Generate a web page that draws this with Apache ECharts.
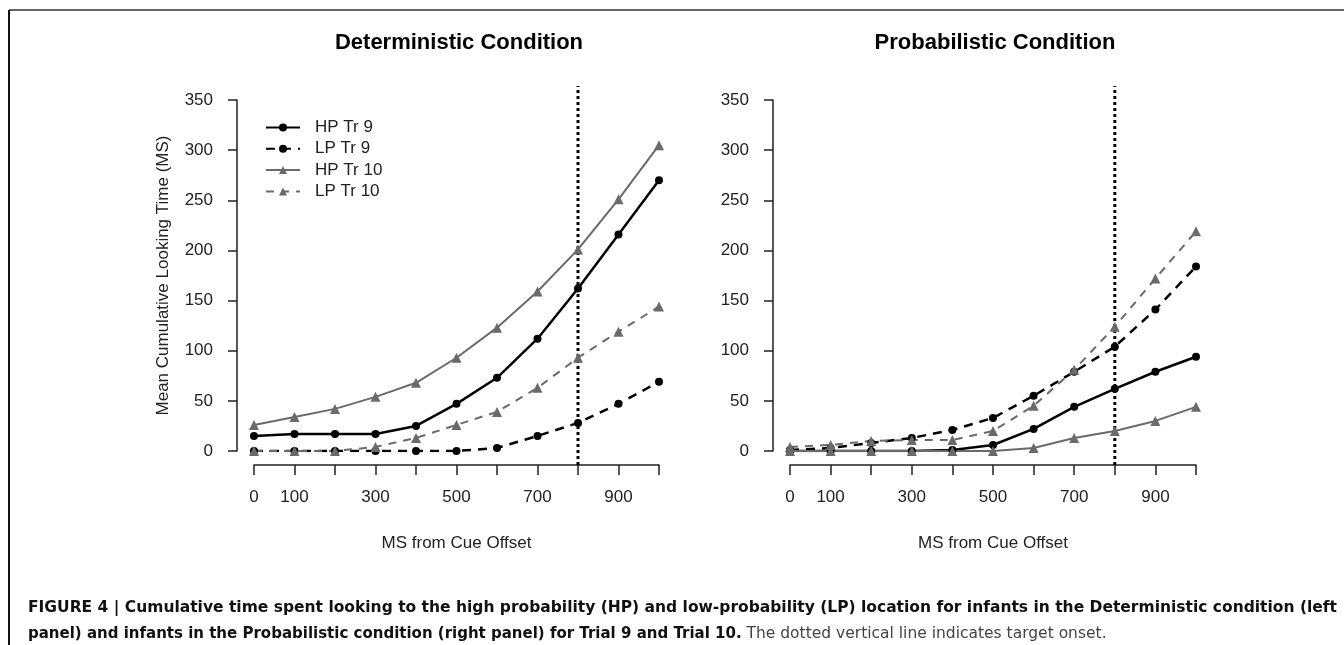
<!DOCTYPE html>
<html>
<head>
<meta charset="utf-8">
<title>Figure 4</title>
<script src="https://cdn.jsdelivr.net/npm/echarts@6.0.0/dist/echarts.min.js"></script>
<style>
  html, body { margin: 0; padding: 0; background: #fff; }
  #chart { width: 1344px; height: 645px; }
</style>
</head>
<body>
<div id="chart"></div>
<script>
// time points (ms from cue offset)
const msPoints = [0, 100, 200, 300, 400, 500, 600, 700, 800, 900, 1000];
const xTickLabels = [0, 100, 300, 500, 700, 900];
const targetOnset = 800;

const seriesNames = ['HP Tr 9', 'LP Tr 9', 'HP Tr 10', 'LP Tr 10'];

// Deterministic condition
const detHP9  = [15, 17, 17, 17, 25, 47, 73, 112, 162, 216, 270];
const detLP9  = [0, 0, 0, 0, 0, 0, 3, 15, 28, 47, 69];
const detHP10 = [26, 34, 42, 54, 68, 93, 123, 159, 201, 251, 305];
const detLP10 = [0, 0, 0, 4, 13, 26, 39, 63, 93, 119, 144];

// Probabilistic condition
const probHP9  = [0, 0, 0, 0, 1, 6, 22, 44, 62, 79, 94];
const probLP9  = [1, 3, 8, 13, 21, 33, 55, 79, 104, 141, 184];
const probHP10 = [0, 0, 0, 0, 0, 0, 3, 13, 20, 30, 44];
const probLP10 = [4, 6, 10, 11, 11, 20, 45, 81, 124, 172, 219];

const FONT = 'Liberation Sans, Arial, sans-serif';
const CAP_FONT = 'DejaVu Sans, Liberation Sans, sans-serif';
const GRAY = '#6a6a6a';
const INK = '#222';

const styles = [
  { color: '#000', width: 2.5, type: 'solid', symbol: 'circle', size: 8 },
  { color: '#000', width: 2.5, type: [9, 7], symbol: 'circle', size: 8 },
  { color: GRAY, width: 2, type: 'solid', symbol: 'triangle', size: 10 },
  { color: GRAY, width: 2, type: [8, 7], symbol: 'triangle', size: 10 }
];

function pairs(values) {
  return msPoints.map((x, i) => [x, values[i]]);
}

function makeSeries(values, idx, panel) {
  const s = styles[idx];
  return {
    name: seriesNames[idx],
    type: 'line',
    xAxisIndex: panel,
    yAxisIndex: panel,
    data: pairs(values),
    symbol: s.symbol,
    symbolSize: s.size,
    itemStyle: { color: s.color },
    lineStyle: { color: s.color, width: s.width, type: s.type },
    emphasis: { disabled: true }
  };
}

// dotted line marking target onset, spanning the whole plot region
function onsetLine(panel) {
  return {
    type: 'line',
    xAxisIndex: panel,
    yAxisIndex: panel,
    data: [[targetOnset, -14], [targetOnset, 364]],
    symbol: 'none',
    clip: false,
    silent: true,
    lineStyle: { color: '#000', width: 3, type: [3, 3] },
    z: 1
  };
}

function xAxisFor(panel) {
  return {
    type: 'value',
    gridIndex: panel,
    min: 0,
    max: 1000,
    interval: 100,
    offset: 14,
    name: 'MS from Cue Offset',
    nameLocation: 'middle',
    nameGap: 70,
    nameTextStyle: { fontFamily: FONT, fontSize: 17, color: INK },
    axisLine: { show: true, onZero: false, lineStyle: { color: INK, width: 1.5 } },
    axisTick: { show: true, length: 10, lineStyle: { color: INK, width: 1.5 } },
    axisLabel: {
      margin: 24,
      fontFamily: FONT,
      fontSize: 17,
      color: INK,
      showMinLabel: true,
      showMaxLabel: true,
      formatter: v => (xTickLabels.indexOf(v) >= 0 ? String(v) : '')
    },
    splitLine: { show: false }
  };
}

function yAxisFor(panel, title) {
  return {
    type: 'value',
    gridIndex: panel,
    min: 0,
    max: 350,
    interval: 50,
    offset: 17,
    name: title,
    nameLocation: 'middle',
    nameGap: 65,
    nameTextStyle: { fontFamily: FONT, fontSize: 17, color: INK },
    axisLine: { show: true, onZero: false, lineStyle: { color: INK, width: 1.5 } },
    axisTick: { show: true, length: 9, lineStyle: { color: INK, width: 1.5 } },
    axisLabel: { margin: 24, fontFamily: FONT, fontSize: 17, color: INK },
    splitLine: { show: false }
  };
}

const chart = echarts.init(document.getElementById('chart'), null, { renderer: 'canvas' });

const option = {
  animation: false,
  backgroundColor: '#fff',
  title: [
    {
      text: 'Deterministic Condition',
      left: 459, top: 32, textAlign: 'center', padding: 0,
      textStyle: { fontFamily: FONT, fontSize: 22, fontWeight: 'bold', color: '#000' }
    },
    {
      text: 'Probabilistic Condition',
      left: 995, top: 32, textAlign: 'center', padding: 0,
      textStyle: { fontFamily: FONT, fontSize: 22, fontWeight: 'bold', color: '#000' }
    }
  ],
  legend: {
    data: seriesNames,
    orient: 'vertical',
    left: 265,
    top: 119,
    padding: 0,
    itemWidth: 34,
    itemHeight: 10,
    itemGap: 4.3,
    textStyle: { fontFamily: FONT, fontSize: 17, color: INK, padding: [0, 0, 0, 10], lineHeight: 17 },
    selectedMode: false
  },
  grid: [
    { left: 254, top: 100, width: 405, height: 351 },
    { left: 790, top: 100, width: 406, height: 351 }
  ],
  xAxis: [xAxisFor(0), xAxisFor(1)],
  yAxis: [yAxisFor(0, 'Mean Cumulative Looking Time (MS)'), yAxisFor(1, '')],
  series: [
    onsetLine(0),
    onsetLine(1),
    makeSeries(detHP9, 0, 0),
    makeSeries(detLP9, 1, 0),
    makeSeries(detHP10, 2, 0),
    makeSeries(detLP10, 3, 0),
    makeSeries(probHP9, 0, 1),
    makeSeries(probLP9, 1, 1),
    makeSeries(probHP10, 2, 1),
    makeSeries(probLP10, 3, 1)
  ],
  graphic: [
    // figure frame
    { type: 'line', shape: { x1: 9, y1: 10, x2: 1344, y2: 10 }, style: { stroke: '#666', lineWidth: 2 }, silent: true },
    { type: 'line', shape: { x1: 9, y1: 10, x2: 9, y2: 645 }, style: { stroke: '#111', lineWidth: 2 }, silent: true },
    // caption
    {
      type: 'text', left: 28, top: 600, silent: true,
      style: {
        text: 'FIGURE 4 | Cumulative time spent looking to the high probability (HP) and low-probability (LP) location for infants in the Deterministic condition (left',
        font: 'bold 15.5px ' + CAP_FONT, fill: '#111'
      }
    },
    {
      type: 'text', left: 28, top: 626, silent: true,
      style: {
        text: '{b|panel) and infants in the Probabilistic condition (right panel) for Trial 9 and Trial 10.}{n| The dotted vertical line indicates target onset.}',
        rich: {
          b: { fontFamily: CAP_FONT, fontSize: 15, fontWeight: 'bold', fill: '#111' },
          n: { fontFamily: CAP_FONT, fontSize: 15.5, fill: '#444' }
        }
      }
    }
  ]
};

chart.setOption(option);
window.addEventListener('resize', () => chart.resize());
</script>
</body>
</html>
